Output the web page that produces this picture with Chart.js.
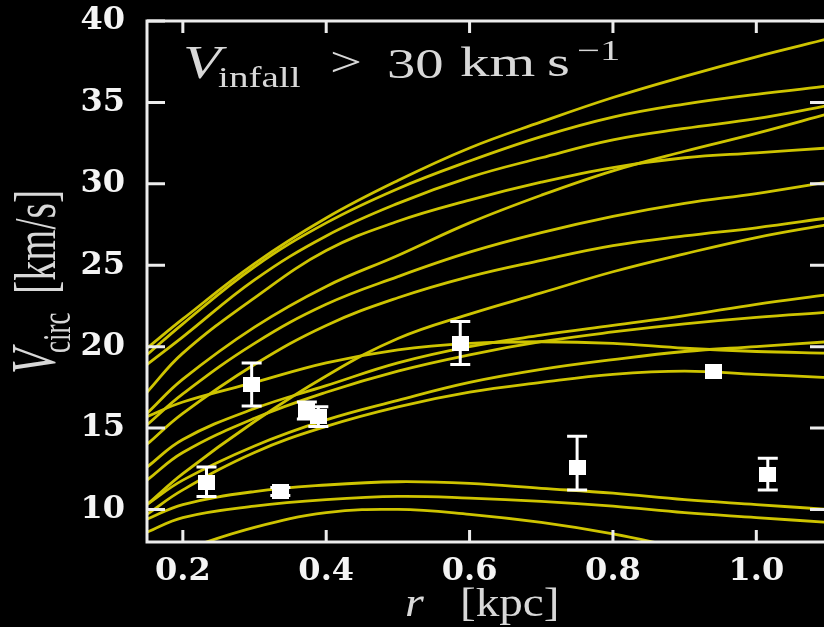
<!DOCTYPE html>
<html>
<head>
<meta charset="utf-8">
<script src="https://cdn.jsdelivr.net/npm/chart.js@4.4.1/dist/chart.umd.min.js"></script>
<style>
  html, body { margin: 0; padding: 0; background: #000; overflow: hidden; }
  #crop { width: 824px; height: 627px; overflow: hidden; position: relative; }
  canvas { display: block; filter: blur(0.5px); }
</style>
</head>
<body>
<div id="crop"><canvas id="chart" width="832" height="627"></canvas></div>
<script>
const YELLOW = "rgb(206,196,0)", AXIS = "#ececec", LABEL = "#f4f4f4", TEXT = "#d8d8d8";

// radius grid (kpc) shared by all rotation curves
const rKpc = [0.15, 0.2, 0.3, 0.4, 0.5, 0.6, 0.7, 0.8, 0.9, 1.0, 1.1];

// upper bundle
const curveA = [19.9, 21.7, 25.1, 27.9, 30.2, 32.2, 33.8, 35.3, 36.6, 37.8, 38.9];
const curveB = [19.5, 21.4, 24.9, 27.6, 29.7, 31.4, 32.9, 34.1, 34.9, 35.5, 36.0];
const curveC = [18.9, 20.6, 24.1, 26.8, 28.8, 30.4, 31.6, 32.7, 33.4, 34.0, 34.8];
const curveD = [15.9, 18.0, 21.2, 23.7, 25.6, 27.6, 29.3, 30.8, 32.0, 33.1, 34.3];
const curveE = [17.2, 19.6, 23.0, 25.9, 27.7, 29.0, 30.1, 31.0, 31.6, 31.9, 32.2];
const curveF = [15.2, 17.1, 20.2, 22.6, 24.3, 25.8, 27.0, 28.0, 28.8, 29.4, 30.1];
const curveG = [14.0, 15.9, 18.9, 21.3, 23.0, 24.3, 25.3, 26.2, 26.8, 27.3, 27.9];
const curveH = [10.3, 12.2, 15.4, 18.2, 20.5, 22.0, 23.3, 24.6, 25.7, 26.7, 27.5];
// middle bundle
const curveI = [12.6, 14.3, 16.2, 17.6, 19.0, 20.0, 20.7, 21.3, 21.9, 22.6, 23.2];
const curveJ = [11.8, 13.5, 15.6, 17.2, 18.5, 19.5, 20.3, 20.9, 21.4, 21.8, 22.1];
const curveK = [15.7, 16.6, 17.8, 19.0, 19.8, 20.2, 20.3, 20.2, 19.9, 19.7, 19.6];
const curveL = [10.3, 11.8, 13.9, 15.5, 16.7, 17.8, 18.6, 19.2, 19.7, 20.0, 20.3];
const curveM = [9.7, 11.2, 13.5, 15.1, 16.3, 17.2, 17.8, 18.3, 18.5, 18.3, 18.1];
// lower bundle
const curveN = [9.4, 10.3, 11.1, 11.5, 11.7, 11.6, 11.3, 11.0, 10.6, 10.3, 10.0];
const curveO = [8.6, 9.5, 10.2, 10.6, 10.8, 10.7, 10.5, 10.2, 9.8, 9.5, 9.2];
const curveP = [6.6, 7.5, 8.9, 9.8, 10.0, 9.7, 9.2, 8.5, 7.6, 6.8, 6.0];

const curves = [curveA, curveB, curveC, curveD, curveE, curveF, curveG, curveH,
                curveI, curveJ, curveK, curveL, curveM, curveN, curveO, curveP];

// observed points with error bars
const obsR  = [0.233, 0.296, 0.336, 0.373, 0.389, 0.587, 0.750, 0.940, 1.016];
const obsV  = [11.65, 17.66, 11.10, 16.05, 15.70, 20.20, 12.60, 18.48, 12.12];
const obsLo = [10.80, 16.35, 10.85, 15.55, 15.10, 18.90, 11.20, 18.48, 11.20];
const obsHi = [12.60, 19.00, 11.35, 16.60, 16.30, 21.55, 14.50, 18.48, 13.15];

const xTicks = [0.2, 0.4, 0.6, 0.8, 1.0];
const yTicks = [10, 15, 20, 25, 30, 35, 40];

const sq = document.createElement("canvas");
sq.width = 17; sq.height = 15;
{ const c = sq.getContext("2d"); c.fillStyle = "#fff"; c.fillRect(0, 0, 17, 15); }

function stretchText(ctx, s, x, y, font, sx) {
    ctx.save();
    ctx.translate(x, y);
    ctx.scale(sx, 1);
    ctx.font = font;
    ctx.fillText(s, 0, 0);
    ctx.restore();
}

const decor = {
    id: "decor",
    beforeDraw(chart) {
        const {ctx, width, height} = chart;
        ctx.save();
        ctx.fillStyle = "#000";
        ctx.fillRect(0, 0, width, height);
        ctx.restore();
    },
    afterDatasetsDraw(chart) {
        const {ctx, scales: {x, y}} = chart;
        ctx.save();
        ctx.strokeStyle = "#fff";
        ctx.lineWidth = 3;
        obsR.forEach((r, i) => {
            if (obsHi[i] - obsLo[i] < 0.01) return;
            const px = x.getPixelForValue(r);
            const lo = y.getPixelForValue(obsLo[i]), hi = y.getPixelForValue(obsHi[i]);
            ctx.beginPath();
            ctx.moveTo(px, lo); ctx.lineTo(px, hi);
            ctx.moveTo(px - 10, lo); ctx.lineTo(px + 10, lo);
            ctx.moveTo(px - 10, hi); ctx.lineTo(px + 10, hi);
            ctx.stroke();
        });
        ctx.restore();
    },
    afterDraw(chart) {
        const {ctx, chartArea: a, scales: {x, y}} = chart;
        ctx.save();
        ctx.strokeStyle = AXIS;
        ctx.lineWidth = 3;
        ctx.strokeRect(a.left, a.top, a.right - a.left, a.bottom - a.top);
        ctx.beginPath();
        xTicks.forEach(v => {
            const px = x.getPixelForValue(v);
            ctx.moveTo(px, a.bottom); ctx.lineTo(px, a.bottom - 12);
            ctx.moveTo(px, a.top); ctx.lineTo(px, a.top + 12);
        });
        yTicks.forEach(v => {
            const py = y.getPixelForValue(v);
            ctx.moveTo(a.left, py); ctx.lineTo(a.left + 18, py);
            ctx.moveTo(a.right, py); ctx.lineTo(a.right - 18, py);
        });
        ctx.stroke();

        // in-panel label
        ctx.fillStyle = TEXT;
        ctx.textBaseline = "alphabetic";
        const L = a.left, T = a.top;
        stretchText(ctx, "V", L + 36, T + 57, 'italic 46px "Liberation Serif"', 1.35);
        stretchText(ctx, "infall", L + 71, T + 66, '29px "Liberation Serif"', 1.35);
        stretchText(ctx, ">", L + 183, T + 55, '42px "Liberation Serif"', 1.35);
        stretchText(ctx, "30", L + 240, T + 57, '42px "Liberation Serif"', 1.35);
        stretchText(ctx, "km", L + 313, T + 55, '42px "Liberation Serif"', 1.4);
        stretchText(ctx, "s", L + 400, T + 55, '42px "Liberation Serif"', 1.4);
        stretchText(ctx, "\u22121", L + 430, T + 39, '29px "Liberation Serif"', 1.4);

        // x title
        stretchText(ctx, "r", 405, 616, 'italic 42px "Liberation Serif"', 1.15);
        stretchText(ctx, "[kpc]", 460, 616, '41px "Liberation Serif"', 1.15);

        // y title (rotated)
        ctx.save();
        ctx.translate(55, 374);
        ctx.scale(1.5, 1);
        ctx.rotate(-Math.PI / 2);
        ctx.font = 'italic 42px "Liberation Serif"';
        ctx.fillText("V", 0, 0);
        ctx.font = '27px "Liberation Serif"';
        ctx.fillText("circ", 21, 10);
        ctx.font = '40px "Liberation Serif"';
        ctx.fillText("[km/s]", 80, 0);
        ctx.restore();
        ctx.restore();
    }
};

const datasets = [{
    type: "scatter",
    data: obsR.map((r, i) => ({x: r, y: obsV[i]})),
    pointStyle: sq,
    pointRadius: 8,
    order: 0
}].concat(curves.map(c => ({
    type: "line",
    data: rKpc.map((r, i) => ({x: r, y: c[i]})),
    borderColor: YELLOW,
    borderWidth: 2.8,
    pointRadius: 0,
    tension: 0.4,
    clip: 0,
    order: 1
})));

const tickFont = {family: "DejaVu Serif", size: 32, weight: "bold"};
const noPad = s => { s.paddingTop = 0; s.paddingBottom = 0; s.paddingLeft = 0; s.paddingRight = 0; };

new Chart(document.getElementById("chart"), {
    type: "line",
    data: {datasets},
    options: {
        responsive: false,
        animation: false,
        devicePixelRatio: 1,
        layout: {autoPadding: false, padding: {top: 21, right: 4, left: 0, bottom: 0}},
        plugins: {legend: {display: false}, tooltip: {enabled: false}},
        scales: {
            x: {
                type: "linear", min: 0.15, max: 1.1,
                afterBuildTicks: s => { s.ticks = xTicks.map(v => ({value: v})); },
                afterFit: s => { s.height = 85; noPad(s); },
                grid: {display: false},
                border: {display: false},
                ticks: {color: LABEL, font: tickFont, padding: 2,
                        callback: v => Number(v).toFixed(1)}
            },
            y: {
                type: "linear", min: 8, max: 40,
                afterBuildTicks: s => { s.ticks = yTicks.map(v => ({value: v})); },
                afterFit: s => { s.width = 147; noPad(s); },
                grid: {display: false},
                border: {display: false},
                ticks: {color: LABEL, font: tickFont, padding: 14}
            }
        }
    },
    plugins: [decor]
});
</script>
</body>
</html>
